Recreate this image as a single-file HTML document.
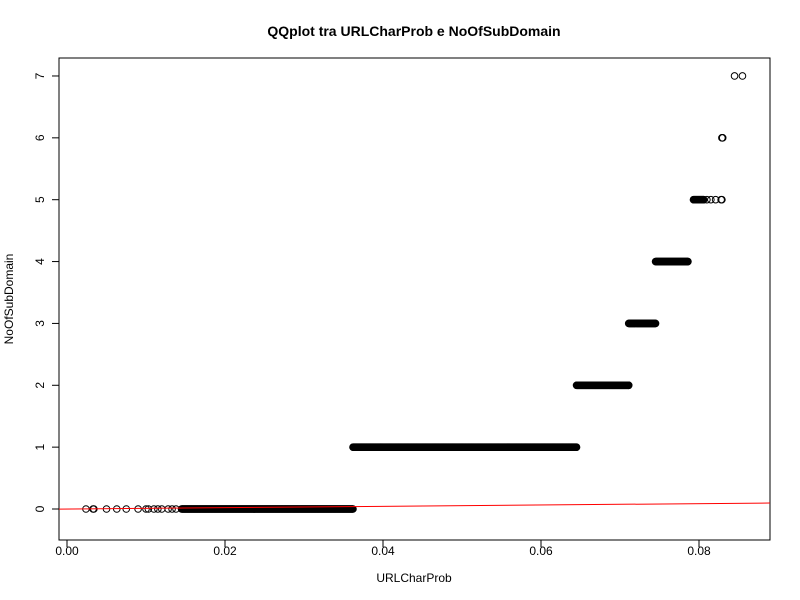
<!DOCTYPE html>
<html><head><meta charset="utf-8"><style>
body{margin:0;background:#fff;}
svg{display:block;font-family:"Liberation Sans",Arial,sans-serif;}
</style></head><body>
<svg id="chart" width="800" height="600" viewBox="0 0 800 600">
<text x="414" y="36" text-anchor="middle" font-size="14" font-weight="bold">QQplot tra URLCharProb e NoOfSubDomain</text>
<rect x="59" y="58" width="711" height="482" fill="none" stroke="#000" stroke-width="1"/>
<text x="414" y="582" text-anchor="middle" font-size="12">URLCharProb</text>
<text transform="translate(13,299) rotate(-90)" text-anchor="middle" font-size="12">NoOfSubDomain</text>
<g id="axes"></g><g id="marks"></g>
</svg>
<script>
const xTicks=[0,0.02,0.04,0.06,0.08];
const xTickLabels=["0.00","0.02","0.04","0.06","0.08"];
const yTicks=[0,1,2,3,4,5,6,7];
const yTickLabels=["0","1","2","3","4","5","6","7"];
// dense runs of quantile points: level, start, end
const runLevels=[0,1,2,3,4,5];
const runStarts=[0.0145,0.0362,0.0645,0.0711,0.0745,0.0793];
const runEnds=[0.0362,0.0645,0.0711,0.0745,0.0786,0.0806];
// isolated points
const ptX=[0.0024,0.0033,0.0034,0.0050,0.0063,0.0075,0.0090,0.0100,0.0103,0.0110,0.0115,0.0120,0.0128,0.0133,0.0138,0.0810,0.0815,0.0821,0.0828,0.0829,0.0829,0.08295,0.0830,0.0845,0.0855];
const ptY=[0,0,0,0,0,0,0,0,0,0,0,0,0,0,0,5,5,5,5,5,6,6,6,7,7];
const lineIntercept=0, lineSlope=1.08;
const X=v=>67+v*7900, Y=v=>509-v*61.86;
const NS="http://www.w3.org/2000/svg";
const axes=document.getElementById('axes'),marks=document.getElementById('marks');
function mk(t,a,p){const e=document.createElementNS(NS,t);for(const k in a)e.setAttribute(k,a[k]);p.appendChild(e);return e;}
let e=mk('line',{x1:X(0),x2:X(0.08),y1:540,y2:540,stroke:'#000'},axes);


xTicks.forEach((t,i)=>{
 let l=mk('line',{x1:X(t),x2:X(t),y1:540,y2:547,stroke:'#000'},axes);
 
 
 let tx=mk('text',{x:X(t),y:555,'text-anchor':'middle','font-size':12},axes);tx.textContent=xTickLabels[i];
 
 
});
e=mk('line',{x1:59,x2:59,y1:Y(0),y2:Y(7),stroke:'#000'},axes);


yTicks.forEach((t,i)=>{
 let l=mk('line',{x1:52,x2:59,y1:Y(t),y2:Y(t),stroke:'#000'},axes);
 
 
 let tx=mk('text',{transform:`translate(44,${Y(t)}) rotate(-90)`,'text-anchor':'middle','font-size':12},axes);tx.textContent=yTickLabels[i];
 
 
});
function pt(x,y){let c=mk('circle',{cx:X(x),cy:Y(y),r:3.3,fill:'none',stroke:'#000','stroke-width':1},marks);
 
 }
runLevels.forEach((lv,i)=>{for(let x=runStarts[i];x<=runEnds[i]+1e-9;x+=0.00006)pt(x,lv);pt(runEnds[i],lv);});
ptX.forEach((x,i)=>pt(x,ptY[i]));
const x0=-0.001,x1=0.089;
e=mk('line',{x1:59,x2:770,y1:Y(lineIntercept+lineSlope*x0),y2:Y(lineIntercept+lineSlope*x1),stroke:'#ff0000','stroke-width':1},marks);


</script>
</body></html>
